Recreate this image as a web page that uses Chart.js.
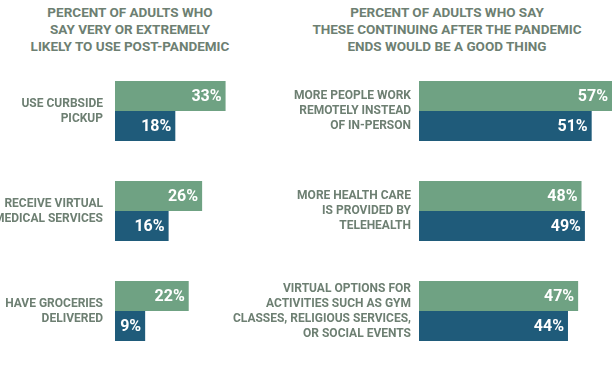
<!DOCTYPE html>
<html>
<head>
<meta charset="utf-8">
<script src="https://cdn.jsdelivr.net/npm/chart.js@4/dist/chart.umd.min.js"></script>
<style>
  body { margin: 0; background: #fff; }
  #wrap { position: relative; width: 612px; height: 374px; overflow: hidden; }
  .title {
    position: absolute; top: 4px; text-align: center; white-space: nowrap;
    font: bold 13.5px Roboto, sans-serif; line-height: 17px; color: #6d7f72;
  }
  canvas { position: absolute; top: 0; left: 0; }
</style>
</head>
<body>
<div id="wrap">
  <div class="title" style="left:-20px;width:300px;">PERCENT OF ADULTS WHO<br>SAY VERY OR EXTREMELY<br>LIKELY TO USE POST-PANDEMIC</div>
  <div class="title" style="left:297px;width:300px;">PERCENT OF ADULTS WHO SAY<br>THESE CONTINUING AFTER THE PANDEMIC<br>ENDS WOULD BE A GOOD THING</div>
  <canvas id="leftChart" width="306" height="374"></canvas>
  <canvas id="rightChart" width="612" height="374"></canvas>
</div>
<script>
// left panel: likely to use post-pandemic
const leftLabels = [
  ["USE CURBSIDE", "PICKUP"],
  ["RECEIVE VIRTUAL", "MEDICAL SERVICES"],
  ["HAVE GROCERIES", "DELIVERED"],
];
const leftGreen = [33, 26, 22];
const leftBlue = [18, 16, 9];

// right panel: good thing if it continues
const rightLabels = [
  ["MORE PEOPLE WORK", "REMOTELY INSTEAD", "OF IN-PERSON"],
  ["MORE HEALTH CARE", "IS PROVIDED BY", "TELEHEALTH"],
  ["VIRTUAL OPTIONS FOR", "ACTIVITIES SUCH AS GYM", "CLASSES, RELIGIOUS SERVICES,", "OR SOCIAL EVENTS"],
];
const rightGreen = [57, 48, 47];
const rightBlue = [51, 49, 44];

const green = "#6fa283";
const blue = "#1f5b7a";

const valueLabels = {
  id: "valueLabels",
  afterDatasetsDraw(chart) {
    const ctx = chart.ctx;
    ctx.save();
    ctx.fillStyle = "#fff";
    ctx.font = "bold 16px Roboto, sans-serif";
    ctx.textAlign = "right";
    ctx.textBaseline = "middle";
    chart.data.datasets.forEach((ds, i) => {
      chart.getDatasetMeta(i).data.forEach((bar, j) => {
        ctx.fillText(ds.data[j] + "%", bar.x - 4, bar.y + 1);
      });
    });
    ctx.restore();
  },
};

// axisWidth = x where the bars start (labels are clipped to the axis box)
const drawChart = (id, labels, g, b, axisWidth, pad) => {
  new Chart(document.getElementById(id), {
    type: "bar",
    data: {
      labels: labels,
      datasets: [
        { label: "Green", data: g, backgroundColor: green, categoryPercentage: 0.6, barPercentage: 1 },
        { label: "Blue", data: b, backgroundColor: blue, categoryPercentage: 0.6, barPercentage: 1 },
      ],
    },
    options: {
      indexAxis: "y",
      responsive: false,
      animation: false,
      layout: { padding: { top: 61, bottom: 13, left: 0, right: 0 } },
      plugins: { legend: { display: false }, tooltip: { enabled: false } },
      scales: {
        x: { display: false, min: 0, max: 57 },
        y: {
          grid: { display: false, drawTicks: false },
          border: { display: false },
          afterFit: (scale) => {
            scale.width = axisWidth;
            scale.paddingTop = 0;
            scale.paddingBottom = 0;
          },
          ticks: {
            padding: pad,
            color: "#6d7f72",
            font: { family: "Roboto", size: 12, weight: "bold", lineHeight: 1.25 },
          },
        },
      },
    },
    plugins: [valueLabels],
  });
};

drawChart("leftChart", leftLabels, leftGreen, leftBlue, 115, 12);
drawChart("rightChart", rightLabels, rightGreen, rightBlue, 419, 8);
</script>
</body>
</html>
